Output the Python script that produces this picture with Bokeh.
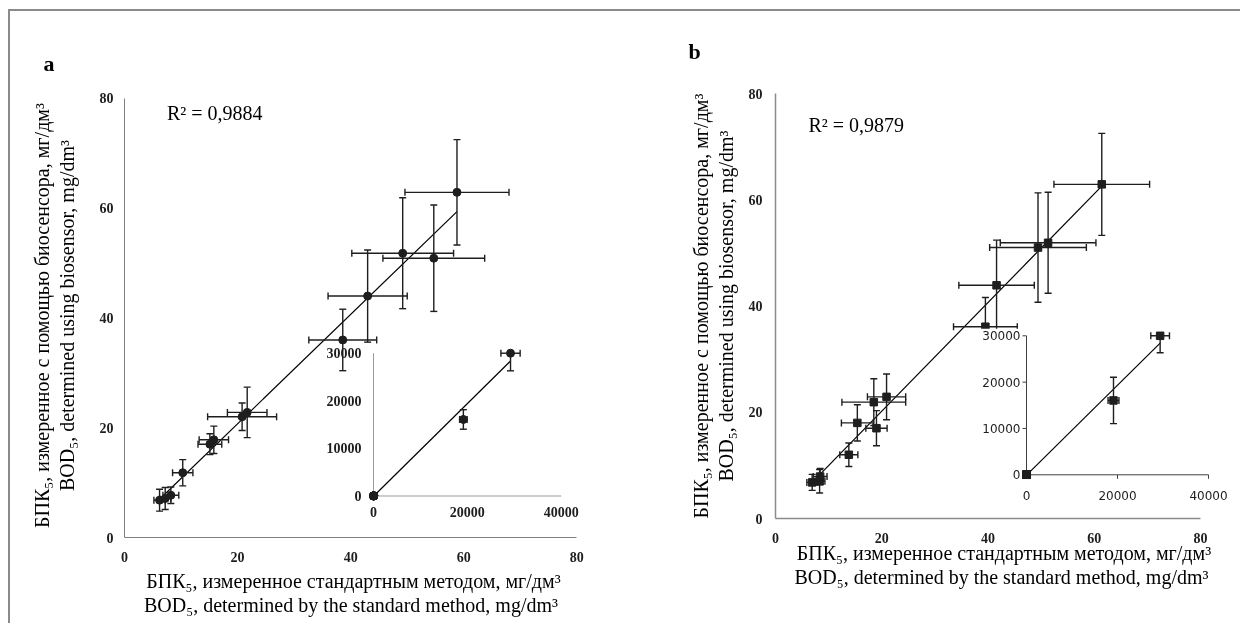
import numpy as np
from bokeh.plotting import figure
from bokeh.models import Range1d, FixedTicker, Label, Title
from bokeh.layouts import row
from bokeh.core.properties import value
from bokeh.embed import file_html
from bokeh.resources import INLINE

# ---------------- data ----------------
main_ticks = [0, 20, 40, 60, 80]
inset_xticks = [0, 20000, 40000]
inset_yticks = [0, 10000, 20000, 30000]

# panel a (circles)
a_x = [58.8, 49.2, 54.7, 43.0, 38.6, 20.8, 21.7, 15.1, 15.8, 10.3, 6.2, 7.2, 8.2]
a_y = [62.9, 51.8, 50.9, 44.0, 36.0, 22.0, 22.8, 17.0, 17.8, 11.8, 6.8, 7.1, 7.7]
a_xerr = [9.2, 9.0, 9.0, 7.0, 6.0, 6.1, 3.5, 2.1, 2.6, 1.8, 1.0, 1.0, 1.4]
a_yerr = [9.6, 10.1, 9.7, 8.4, 5.6, 2.5, 4.6, 1.9, 2.5, 2.4, 2.0, 2.0, 1.5]
a_big_x = [19150, 29200]
a_big_y = [16080, 30000]
a_big_xerr = [800, 2050]
a_big_yerr = [2050, 3700]
a_r2 = "R² = 0,9884"

# panel b (squares)
b_x = [61.4, 51.3, 49.4, 41.6, 39.5, 20.9, 18.5, 15.4, 19.0, 13.8, 6.9, 8.3, 8.4]
b_y = [62.9, 51.9, 51.0, 43.9, 36.1, 22.9, 21.9, 18.0, 17.0, 12.0, 6.8, 7.0, 7.9]
b_xerr = [9.0, 9.0, 9.1, 7.1, 6.0, 3.6, 6.0, 3.0, 2.0, 1.7, 1.0, 1.0, 1.3]
b_yerr = [9.6, 9.5, 10.3, 8.5, 5.5, 4.3, 4.4, 3.4, 3.3, 2.2, 1.5, 2.2, 1.5]
b_big_x = [19120, 29370]
b_big_y = [16050, 30000]
b_big_xerr = [1200, 2050]
b_big_yerr = [5000, 3650]
b_r2 = "R² = 0,9879"

XLAB = "БПК₅, измеренное стандартным методом, мг/дм³\nBOD₅, determined  by the standard method, mg/dm³"
YLAB = "БПК₅, измеренное с помощью биосенсора, мг/дм³\nBOD₅, determined using biosensor, mg/dm³"

SERIF = "Liberation Serif"
INK = "#1e1e1e"


def base_fig(**kw):
    p = figure(output_backend="svg", toolbar_location=None, **kw)
    p.xgrid.visible = False
    p.ygrid.visible = False
    p.outline_line_color = None
    return p


def style_axis(ax, ticks, line_color, line_width, standoff):
    ax.ticker = FixedTicker(ticks=ticks)
    ax.bounds = (ticks[0], ticks[-1])
    ax.major_label_text_font = SERIF
    ax.major_label_text_font_size = "14px"
    ax.major_label_text_font_style = "bold"
    ax.major_label_text_color = INK
    ax.axis_line_color = line_color
    ax.axis_line_width = line_width
    ax.major_tick_out = 0
    ax.major_tick_in = 0
    ax.major_tick_line_color = None
    ax.minor_tick_line_color = None
    ax.major_label_standoff = standoff


def axis_title(ax, text, standoff):
    ax.axis_label = text
    ax.axis_label_text_font = SERIF
    ax.axis_label_text_font_size = "20px"
    ax.axis_label_text_font_style = "normal"
    ax.axis_label_text_color = "black"
    ax.axis_label_text_line_height = 1.1
    ax.axis_label_standoff = standoff


def panel_title(text, offset, line_height):
    return Title(text=text + "\n", align="left", offset=offset, text_font=SERIF,
                 text_font_size="22px", text_font_style="bold", text_color="black",
                 text_line_height=line_height)


def trend(p, x, y, **rn):
    x = np.asarray(x, float)
    y = np.asarray(y, float)
    k, c = np.polyfit(x, y, 1)
    xs = np.array([x.min(), x.max()])
    p.line(xs, k * xs + c, line_color="black", line_width=1.2, **rn)


def points(p, x, y, xerr, yerr, marker, msize, lim=None, **rn):
    x = np.asarray(x, float)
    y = np.asarray(y, float)
    xerr = np.asarray(xerr, float)
    yerr = np.asarray(yerr, float)
    xl, xh, yl, yh = x - xerr, x + xerr, y - yerr, y + yerr
    if lim is None:
        lim = (-np.inf, np.inf, -np.inf, np.inf)
    xmin, xmax, ymin, ymax = lim
    # error bars are cut at the axis limits, like in the source chart
    cxl, cxh = np.clip(xl, xmin, xmax), np.clip(xh, xmin, xmax)
    cyl, cyh = np.clip(yl, ymin, ymax), np.clip(yh, ymin, ymax)
    lw = 1.4
    p.segment(x, cyl, x, cyh, line_color=INK, line_width=lw, **rn)
    p.segment(cxl, y, cxh, y, line_color=INK, line_width=lw, **rn)
    vx = np.r_[x[yl >= ymin], x[yh <= ymax]]
    vy = np.r_[yl[yl >= ymin], yh[yh <= ymax]]
    p.scatter(vx, vy, marker="dash", size=7, line_color=INK, line_width=lw, **rn)
    hx = np.r_[xl[xl >= xmin], xh[xh <= xmax]]
    hy = np.r_[y[xl >= xmin], y[xh <= xmax]]
    p.scatter(hx, hy, marker="dash", angle=np.pi / 2, size=7, line_color=INK,
              line_width=lw, **rn)
    p.scatter(x, y, marker=marker, size=msize, fill_color=INK, line_color=INK, **rn)


def inset_ranges(frame_w, frame_h, px, xticks, yticks):
    # px: where the inset's axes sit inside the frame (pixels from frame left / bottom)
    x0, x1, y0, y1 = px
    ux = (xticks[-1] - xticks[0]) / (x1 - x0)
    uy = (yticks[-1] - yticks[0]) / (y1 - y0)
    xs = xticks[0] - x0 * ux
    ys = yticks[0] - y0 * uy
    return Range1d(xs, xs + frame_w * ux), Range1d(ys, ys + frame_h * uy), ux, uy


def inset_axes(p, xticks, yticks, font, size, style, color, xoff, yoff, tick_len, **rn):
    xmin, xmax = xticks[0], xticks[-1]
    ymin, ymax = yticks[0], yticks[-1]
    p.segment([xmin, xmin], [ymin, ymin], [xmax, xmin], [ymin, ymax],
              line_color=color, line_width=1, **rn)
    if tick_len:
        p.ray(x=[xmin] * len(yticks), y=yticks, length=tick_len, length_units="screen",
              angle=np.pi, line_color=color, line_width=1, **rn)
        p.ray(x=xticks, y=[ymin] * len(xticks), length=tick_len, length_units="screen",
              angle=-np.pi / 2, line_color=color, line_width=1, **rn)
    p.text(x=[xmin] * len(yticks), y=yticks, text=[str(t) for t in yticks],
           x_offset=-xoff, text_align="right", text_baseline="middle",
           text_font=value(font), text_font_size=value(size), text_font_style=style,
           text_color=INK, **rn)
    p.text(x=xticks, y=[ymin] * len(xticks), text=[str(t) for t in xticks],
           y_offset=yoff, text_align="center", text_baseline="top",
           text_font=value(font), text_font_size=value(size), text_font_style=style,
           text_color=INK, **rn)


def r2_label(p, text, x, y):
    p.add_layout(Label(x=x, y=y, text=text, text_font=SERIF, text_font_size="20px",
                       text_color="black", text_align="left", text_baseline="alphabetic"))


# ---------------- panel a ----------------
# frame reaches a little above 80 so that both panels' frames share the same top edge;
# the axis line itself stops at 80 (axis bounds)
FWA, FHA = 458, 444
pa = base_fig(x_range=Range1d(0, 81), y_range=Range1d(0, 80.91),
              frame_width=FWA, frame_height=FHA,
              min_border_left=114, min_border_right=38, min_border_top=82, min_border_bottom=86)
pa.title = panel_title("a", -81, 0.51)
style_axis(pa.xaxis[0], main_ticks, "#808080", 1, 14)
style_axis(pa.yaxis[0], main_ticks, "#808080", 1, 11)
axis_title(pa.xaxis[0], XLAB, 5)
axis_title(pa.yaxis[0], YLAB, 19)
trend(pa, a_x, a_y)
points(pa, a_x, a_y, a_xerr, a_yerr, "circle", 8)
r2_label(pa, a_r2, 7.5, 77.3)

xr, yr, _, _ = inset_ranges(FWA, FHA, (249, 436.7, 41.5, 184.3), inset_xticks, inset_yticks)
pa.extra_x_ranges = {"ins": xr}
pa.extra_y_ranges = {"ins": yr}
rn = dict(x_range_name="ins", y_range_name="ins")
inset_axes(pa, inset_xticks, inset_yticks, SERIF, "14px", "bold", "#999999", 12, 11, 0, **rn)
lim = (inset_xticks[0], inset_xticks[-1], inset_yticks[0], inset_yticks[-1])
ia_x = a_x + a_big_x
ia_y = a_y + a_big_y
trend(pa, ia_x, ia_y, **rn)
points(pa, ia_x, ia_y, a_xerr + a_big_xerr, a_yerr + a_big_yerr, "circle", 8, lim=lim, **rn)

# ---------------- panel b ----------------
FWB, FHB = 457, 425
pb = base_fig(x_range=Range1d(0, 86), y_range=Range1d(0, 80),
              frame_width=FWB, frame_height=FHB,
              min_border_left=155, min_border_right=8, min_border_top=82, min_border_bottom=105)
pb.title = panel_title("b", -87, 0.99)
style_axis(pb.xaxis[0], main_ticks, "#8c8c8c", 1.5, 14)
style_axis(pb.yaxis[0], main_ticks, "#8c8c8c", 1.5, 13)
axis_title(pb.xaxis[0], XLAB, -4)
axis_title(pb.yaxis[0], YLAB, 9)
trend(pb, b_x, b_y)
points(pb, b_x, b_y, b_xerr, b_yerr, "square", 7.5)
r2_label(pb, b_r2, 6.2, 74.0)

xr, yr, ux, uy = inset_ranges(FWB, FHB, (251, 433, 43.7, 182.7), inset_xticks, inset_yticks)
pb.extra_x_ranges = {"ins": xr}
pb.extra_y_ranges = {"ins": yr}
# white chart area of the inset hides what lies behind it
pb.quad(left=inset_xticks[0] - 56 * ux, right=inset_xticks[-1] + 22 * ux,
        bottom=inset_yticks[0] - 31 * uy, top=inset_yticks[-1] + 7 * uy,
        fill_color="white", line_color=None, **rn)
inset_axes(pb, inset_xticks, inset_yticks, "DejaVu Sans", "12px", "normal", "#404040", 6, 16, 4, **rn)
ib_x = b_x + b_big_x
ib_y = b_y + b_big_y
trend(pb, ib_x, ib_y, **rn)
points(pb, ib_x, ib_y, b_xerr + b_big_xerr, b_yerr + b_big_yerr, "square", 7.5, lim=lim, **rn)

layout = row(pa, pb, spacing=0,
             styles={"position": "fixed", "left": "8px", "top": "9px",
                     "border-top": "2px solid #8a8a8a", "border-left": "2px solid #8a8a8a"})

open("out.html", "w").write(file_html(layout, INLINE))
